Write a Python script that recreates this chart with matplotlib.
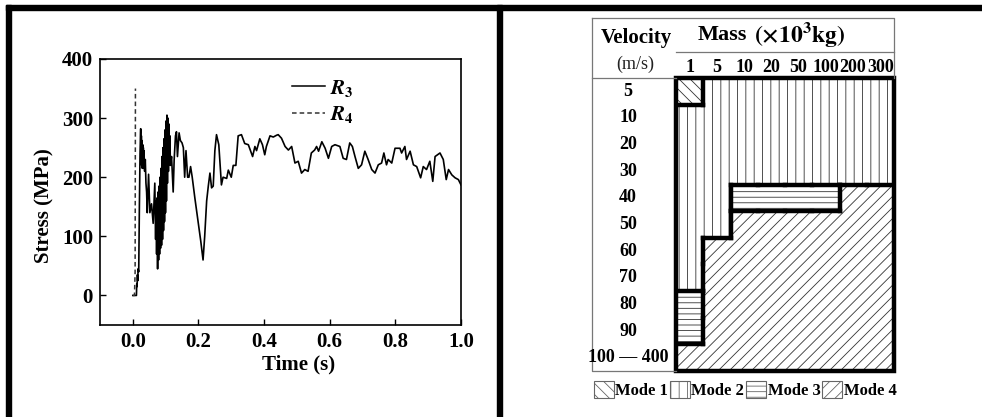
import numpy as np
import matplotlib
matplotlib.use('Agg')
import matplotlib.pyplot as plt
from matplotlib.patches import Rectangle, Patch
from matplotlib.collections import LineCollection
from matplotlib.lines import Line2D

plt.rcParams['font.family'] = ['Liberation Serif', 'DejaVu Serif']
plt.rcParams['font.weight'] = 'bold'
plt.rcParams['axes.labelweight'] = 'bold'
plt.rcParams['mathtext.fontset'] = 'stix'
plt.rcParams['hatch.linewidth'] = 0.6

# ---- left panel data ----
t_r3 = [0.000, 0.011, 0.012, 0.013, 0.014, 0.015, 0.016, 0.018, 0.020, 0.022,
        0.024, 0.025, 0.026, 0.027, 0.028, 0.029, 0.030, 0.031, 0.032, 0.033,
        0.034, 0.036, 0.038, 0.040, 0.042, 0.044, 0.048, 0.052, 0.057, 0.062,
        0.067, 0.0680, 0.0695, 0.0710, 0.0725, 0.0740, 0.0755, 0.0770, 0.0785, 0.0800,
        0.0815, 0.0830, 0.0845, 0.0860, 0.0875, 0.0890, 0.0905, 0.0920, 0.0935, 0.0950,
        0.0965, 0.0980, 0.0995, 0.1010, 0.1025, 0.1040, 0.1055, 0.1070, 0.1085, 0.1100,
        0.1115, 0.1130, 0.1145, 0.118, 0.121, 0.123, 0.126, 0.130, 0.133, 0.136,
        0.139, 0.141, 0.145, 0.150, 0.154, 0.158, 0.162, 0.167, 0.171, 0.176,
        0.181, 0.189, 0.200, 0.207, 0.214, 0.219, 0.225, 0.230, 0.235, 0.240,
        0.245, 0.250, 0.255, 0.262, 0.270, 0.275, 0.286, 0.291, 0.300, 0.306,
        0.314, 0.321, 0.331, 0.341, 0.352, 0.365, 0.372, 0.377, 0.387, 0.395,
        0.402, 0.407, 0.418, 0.428, 0.438, 0.443, 0.453, 0.464, 0.474, 0.484,
        0.494, 0.504, 0.514, 0.524, 0.534, 0.544, 0.554, 0.560, 0.566, 0.576,
        0.586, 0.596, 0.606, 0.616, 0.631, 0.641, 0.651, 0.661, 0.669, 0.677,
        0.687, 0.697, 0.707, 0.717, 0.728, 0.738, 0.748, 0.758, 0.765, 0.773,
        0.778, 0.789, 0.799, 0.814, 0.819, 0.829, 0.834, 0.845, 0.855, 0.865,
        0.877, 0.885, 0.895, 0.905, 0.914, 0.921, 0.936, 0.946, 0.955, 0.962,
        0.972, 0.982, 0.992, 1.000]
s_r3 = [0, 0, 20, 15, 35, 25, 45, 40, 150, 240,
        282, 225, 270, 220, 262, 215, 255, 225, 250, 215,
        245, 210, 230, 190, 175, 140, 205, 140, 155, 122,
        190, 150, 95, 160, 70, 165, 45, 175, 60, 185,
        70, 200, 80, 215, 85, 235, 95, 250, 110, 265,
        125, 280, 140, 295, 160, 305, 190, 300, 210, 290,
        230, 270, 220, 235, 200, 175, 230, 270, 277, 235,
        260, 275, 262, 258, 250, 200, 245, 200, 200, 218,
        200, 165, 120, 92, 60, 100, 160, 185, 207, 182,
        185, 245, 272, 255, 187, 200, 198, 212, 200, 220,
        220, 270, 272, 257, 255, 235, 252, 245, 265, 255,
        238, 252, 270, 268, 271, 272, 266, 252, 246, 252,
        224, 227, 207, 213, 210, 241, 246, 252, 244, 260,
        249, 232, 252, 255, 252, 232, 230, 258, 252, 235,
        215, 221, 244, 230, 213, 207, 221, 224, 241, 221,
        230, 224, 249, 249, 241, 252, 230, 244, 221, 218,
        199, 218, 213, 227, 193, 235, 241, 230, 196, 213,
        204, 199, 196, 187]
t_r4 = [0.000, 0.005, 0.007, 0.008]
s_r4 = [0, 0, 40, 350]

# ---- right panel data ----
mass_labels = ['1', '5', '10', '20', '50', '100', '200', '300']
velocity_labels = ['5', '10', '20', '30', '40', '50', '60', '70', '80', '90', '100 \u2014 400']
mode_grid = [
    [1, 2, 2, 2, 2, 2, 2, 2],
    [2, 2, 2, 2, 2, 2, 2, 2],
    [2, 2, 2, 2, 2, 2, 2, 2],
    [2, 2, 2, 2, 2, 2, 2, 2],
    [2, 2, 3, 3, 3, 3, 4, 4],
    [2, 2, 4, 4, 4, 4, 4, 4],
    [2, 4, 4, 4, 4, 4, 4, 4],
    [2, 4, 4, 4, 4, 4, 4, 4],
    [3, 4, 4, 4, 4, 4, 4, 4],
    [3, 4, 4, 4, 4, 4, 4, 4],
    [4, 4, 4, 4, 4, 4, 4, 4],
]
mode_names = ['Mode 1', 'Mode 2', 'Mode 3', 'Mode 4']
mode_hatch = {1: '\\\\\\', 2: '||', 3: '---', 4: '///'}

fig = plt.figure(figsize=(9.82, 4.17), dpi=100)

# outer frame bands
frame_kw = dict(transform=fig.transFigure, color='black', zorder=10)
fig.add_artist(Rectangle((6/982, 407/417), 1 - 6/982, 5/417, **frame_kw))
fig.add_artist(Rectangle((6/982, 0), 5/982, 412/417, **frame_kw))
fig.add_artist(Rectangle((497/982, 0), 5/982, 412/417, **frame_kw))

# ---------------- left: stress curve ----------------
ax = fig.add_axes([100/982, 92/417, 361/982, 266/417])
ax.plot(t_r3, s_r3, color='black', lw=1.2)
ax.plot(t_r4, s_r4, color='#333333', lw=1.1, ls=(0, (3, 2)))
ax.set_xlim(-0.1, 1.0)
ax.set_ylim(-50, 400)
ax.set_xticks([0.0, 0.2, 0.4, 0.6, 0.8, 1.0])
ax.set_yticks([0, 100, 200, 300, 400])
ax.tick_params(direction='in', length=4, width=1, labelsize=15, pad=5)
for sp in ax.spines.values():
    sp.set_linewidth(1.2)
ax.set_xlabel('Time (s)', fontsize=15, fontweight='bold')
ax.set_ylabel('Stress (MPa)', fontsize=15, fontweight='bold')
ax.xaxis.set_label_coords(0.55, -0.11)
ax.yaxis.set_label_coords(-0.125, 0.45)
handles = [Line2D([], [], color='black', lw=1.1),
           Line2D([], [], color='#333333', lw=1.1, ls=(0, (3, 2)))]
ax.legend(handles, [r'$\mathbfit{R}_{\mathrm{3}}$', r'$\mathbfit{R}_{\mathrm{4}}$'],
          loc='upper left', bbox_to_anchor=(0.48, 1.0), frameon=False,
          fontsize=15, handlelength=1.6, handletextpad=0.2, labelspacing=0.25)

# ---------------- right: mode map ----------------
ncol = len(mass_labels)
nrow = len(velocity_labels)
gx = fig.add_axes([676/982, 46/417, 218/982, 293/417])
gx.set_xlim(0, ncol)
gx.set_ylim(nrow, 0)
gx.axis('off')

for r in range(nrow):
    for c in range(ncol):
        m = mode_grid[r][c]
        gx.add_patch(Rectangle((c, r), 1, 1, facecolor='white', edgecolor='#333333',
                               hatch=mode_hatch[m], lw=0))

# thick borders between different modes
segs = []
for r in range(nrow):
    for c in range(ncol):
        if c + 1 < ncol and mode_grid[r][c] != mode_grid[r][c + 1]:
            segs.append([(c + 1, r), (c + 1, r + 1)])
        if r + 1 < nrow and mode_grid[r][c] != mode_grid[r + 1][c]:
            segs.append([(c, r + 1), (c + 1, r + 1)])
lc = LineCollection(segs, colors='black', linewidths=3.2, capstyle='projecting')
gx.add_collection(lc)
gx.add_patch(Rectangle((0, 0), ncol, nrow, fill=False, ec='black', lw=3.2,
                       joinstyle='miter', clip_on=False))

# thin table lines
thin = dict(color='#777777', lw=0.9, clip_on=False)
x0, y0 = -3.08, -2.26
gx.plot([x0, ncol, ncol], [y0, y0, 0], **thin)
gx.plot([x0, x0, 0], [y0, nrow, nrow], **thin)
gx.plot([x0, 0], [0, 0], **thin)
gx.plot([0, ncol], [-0.98, -0.98], **thin)

for c, lab in enumerate(mass_labels):
    gx.text(c + 0.5, -0.4, lab, ha='center', va='center', fontsize=13)
for r, lab in enumerate(velocity_labels):
    gx.text(-1.76, r + 0.5, lab, ha='center', va='center', fontsize=13)
gx.text(-1.47, -1.5, 'Velocity', ha='center', va='center', fontsize=15)
gx.text(-1.5, -0.5, '(m/s)', ha='center', va='center', fontsize=13,
        fontweight='normal', color='#222222')
gx.text(2.6, -1.62, 'Mass', ha='right', va='center', fontsize=16)
gx.text(2.85, -1.62, r'$(\times10^{\mathbf{3}}\mathrm{kg})$', ha='left',
        va='center', fontsize=17, fontweight='normal')

leg_handles = [Patch(facecolor='white', edgecolor='#666666', hatch=mode_hatch[i + 1], lw=0.8)
               for i in range(4)]
gx.legend(leg_handles, mode_names, loc='upper center', bbox_to_anchor=(0.317, 0.0),
          ncol=4, frameon=False, fontsize=12, handlelength=1.2, handleheight=1.2,
          handletextpad=0.1, columnspacing=0.1, borderpad=0.1)

fig.savefig('out.png', dpi=100)
